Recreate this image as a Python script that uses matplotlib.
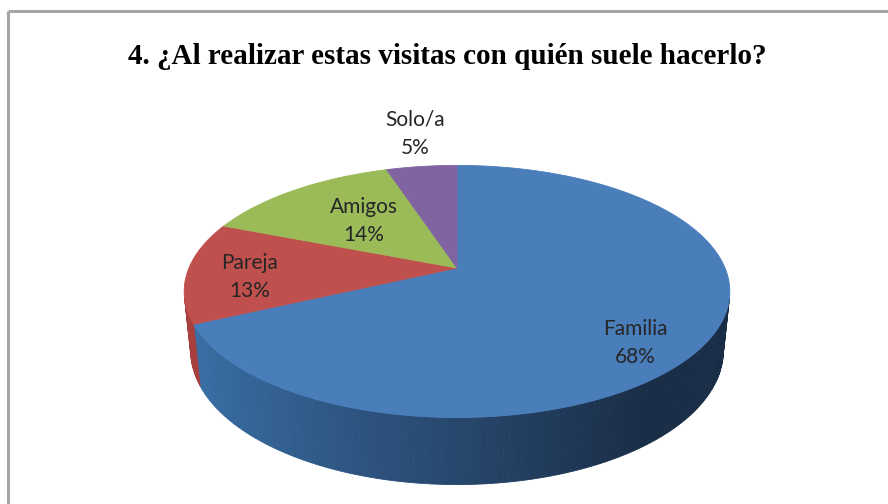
import numpy as np
import matplotlib
matplotlib.use("Agg")
import matplotlib.pyplot as plt
from matplotlib.colors import to_rgb

# --- data ---
labels = ["Familia", "Pareja", "Amigos", "Solo/a"]
shares = [68, 13, 14, 5]
title = "4. ¿Al realizar estas visitas con quién suele hacerlo?"

# --- style ---
top_colors = ["#4a7ebb", "#c0504d", "#9bbb59", "#8064a2"]
side_dark = ["#1a2d47", "#7a2b29", "#5f7a2e", "#4f3b68"]
side_light = ["#3b72ab", "#a8403e", "#86a64a", "#6e5690"]
label_pos = [(635, 343), (250, 277), (364, 221), (415, 134)]  # pixel centres

# perspective for the 3-D disc (pixel units, y grows downward)
CX, CY = 457, 268
ELEV = np.radians(27.0)
DIST = 4.79
FOCAL = 1284.0
THICK = 0.25
S, C = np.sin(ELEV), np.cos(ELEV)


def project(X, Z, Y=0.0):
    """World (X right, Z toward viewer, Y up) -> screen pixels."""
    depth = DIST - (Z * C + Y * S)
    u = FOCAL * X / depth
    v = FOCAL * (Y * C - Z * S) / depth
    return CX + u, CY - v


def disc_point(phi, r=1.0, Y=0.0):
    # phi measured clockwise from 12 o'clock (back of the disc)
    return project(r * np.sin(phi), -r * np.cos(phi), Y)


def side_shade(i, phi):
    t = np.sin(phi)  # -1 left, +1 right
    w = np.clip((t + 1.0) / 1.6, 0, 1)
    a, b = np.array(to_rgb(side_light[i])), np.array(to_rgb(side_dark[i]))
    return a * (1 - w) + b * w


fig = plt.figure(figsize=(8.88, 5.04), dpi=100)
ax = fig.add_axes([0, 0, 1, 1])
ax.set_xlim(0, 888)
ax.set_ylim(504, 0)
ax.axis("off")

# chart frame (top and left visible)
ax.plot([7.5, 888], [10.5, 10.5], color="#a6a6a6", lw=2.2, solid_capstyle="butt")
ax.plot([7.5, 7.5], [10.5, 504], color="#a6a6a6", lw=2.2, solid_capstyle="butt")

bounds = np.radians(np.concatenate([[0], np.cumsum(shares)]) * 3.6)
vis_lo = np.arccos(-1.0 / (DIST * C))  # side faces toward camera between these
vis_hi = 2 * np.pi - vis_lo

# sides
for i in range(len(shares)):
    a0, a1 = max(bounds[i], vis_lo), min(bounds[i + 1], vis_hi)
    if a1 <= a0:
        continue
    phis = np.linspace(a0, a1, max(int(np.degrees(a1 - a0)), 2) + 1)
    for p0, p1 in zip(phis[:-1], phis[1:]):
        xs, ys = zip(disc_point(p0), disc_point(p1),
                     disc_point(p1, Y=-THICK), disc_point(p0, Y=-THICK))
        col = side_shade(i, 0.5 * (p0 + p1))
        ax.fill(xs, ys, color=col, lw=0.6, ec=col)

# top faces
for i in range(len(shares)):
    phis = np.linspace(bounds[i], bounds[i + 1], 200)
    pts = [project(0.0, 0.0)] + [disc_point(p) for p in phis]
    xs, ys = zip(*pts)
    ax.fill(xs, ys, color=top_colors[i], lw=0.6, ec=top_colors[i])

for i, (name, val) in enumerate(zip(labels, shares)):
    x, y = label_pos[i]
    ax.text(x, y, f"{name}\n{val}%", ha="center", va="center", fontsize=15,
            family="Lato", color="#262626", linespacing=1.5)

ax.text(447, 64, title, ha="center", va="baseline", fontsize=21,
        family="Liberation Serif", fontweight="bold", color="#000000")

fig.savefig("out.png", dpi=100)
